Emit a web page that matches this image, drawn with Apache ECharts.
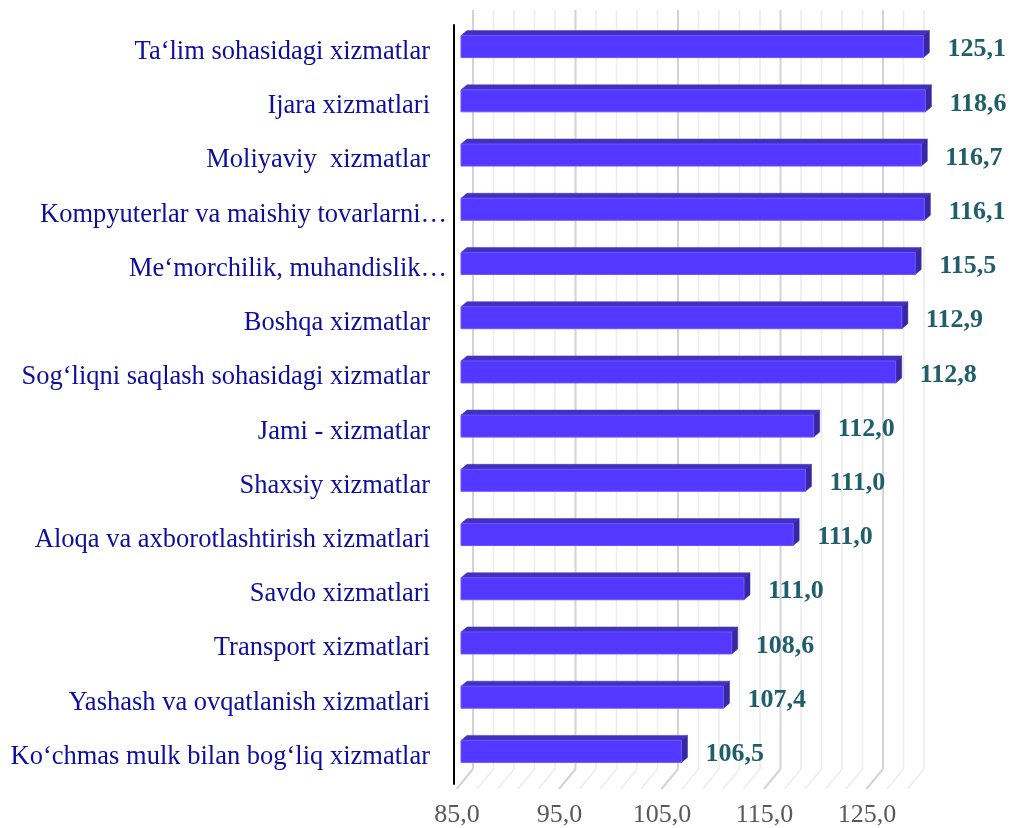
<!DOCTYPE html>
<html>
<head>
<meta charset="utf-8">
<script src="https://cdn.jsdelivr.net/npm/echarts@6/dist/echarts.min.js"></script>
<style>
html,body{margin:0;padding:0;background:#fff;}
#c{width:1010px;height:828px;}
</style>
</head>
<body>
<div id="c"></div>
<script>
// Category names (top to bottom)
const categories = [
  'Ta‘lim sohasidagi xizmatlar',
  'Ijara xizmatlari',
  'Moliyaviy  xizmatlar',
  'Kompyuterlar va maishiy tovarlarni…',
  'Me‘morchilik, muhandislik…',
  'Boshqa xizmatlar',
  'Sog‘liqni saqlash sohasidagi xizmatlar',
  'Jami - xizmatlar',
  'Shaxsiy xizmatlar',
  'Aloqa va axborotlashtirish xizmatlari',
  'Savdo xizmatlari',
  'Transport xizmatlari',
  'Yashash va ovqatlanish xizmatlari',
  'Ko‘chmas mulk bilan bog‘liq xizmatlar'
];
// Values printed next to the bars
const valueLabels = ['125,1','118,6','116,7','116,1','115,5','112,9','112,8','112,0','111,0','111,0','111,0','108,6','107,4','106,5'];
// Bar lengths as drawn in the picture
const barLengths = [130.5,130.7,130.3,130.6,129.7,128.4,127.8,119.8,119.0,117.8,113.0,111.8,111.0,106.9];
// Value axis tick labels
const axisTicks = [85,95,105,115,125];
// Back-wall gridlines
const wallLines = [85,87,89,91,93,95,97,99,101,103,105,107,109,111,113,115,117,119,121,123,125,127,129];

const chart = echarts.init(document.getElementById('c'), null, {renderer:'canvas'});
const FONT = '"Liberation Serif", "Times New Roman", serif';
const AX_MIN = 85, AX_MAX = 131;

const labelStyle = {fontFamily: FONT, fontSize: 26.5, color: '#0E0E9C', lineHeight: 30};

chart.setOption({
  animation: false,
  backgroundColor: '#ffffff',
  grid: [
    {left: 457, right: 81.5, top: 25, bottom: 44, containLabel: false},
    {left: 473, right: 65.5, top: 10, bottom: 59, containLabel: false}
  ],
  xAxis: [
    {
      gridIndex: 0, type: 'value', min: AX_MIN, max: AX_MAX, interval: 10,
      axisLine: {show: false}, axisTick: {show: false}, splitLine: {show: false},
      axisLabel: {
        margin: 18, fontFamily: FONT, fontSize: 26, lineHeight: 26, color: '#595959',
        formatter: function (v) {
          return axisTicks.indexOf(v) >= 0 ? v.toFixed(1).replace('.', ',') : '';
        }
      }
    },
    {
      gridIndex: 1, type: 'value', min: AX_MIN, max: AX_MAX, show: false
    }
  ],
  yAxis: [
    {
      gridIndex: 0, type: 'category', data: categories, inverse: true, offset: 3,
      axisTick: {show: false},
      axisLine: {show: true, lineStyle: {color: '#000000', width: 2}},
      splitLine: {show: false},
      axisLabel: {
        margin: 7,
        formatter: function (v) {
          return v.endsWith('…') ? '{t|' + v + '}' : '{n|' + v + '}';
        },
        rich: {
          n: Object.assign({padding: [0, 17, 0, 0]}, labelStyle),
          t: Object.assign({}, labelStyle)
        }
      }
    },
    {gridIndex: 1, type: 'value', min: 0, max: 1, show: false}
  ],
  series: [
    {
      type: 'custom',
      xAxisIndex: 1, yAxisIndex: 1,
      z: 1,
      silent: true,
      data: wallLines.map(function (v) { return [v]; }),
      renderItem: function (params, api) {
        const v = api.value(0);
        const b = api.coord([v, 0]);
        const t = api.coord([v, 1]);
        const major = ((v - 85) % 10) === 0;
        const col = major ? '#D4D4D4' : '#EDEDED';
        const w = major ? 2 : 1.6;
        return {
          type: 'group',
          children: [
            {type: 'line', shape: {x1: b[0], y1: t[1], x2: b[0], y2: b[1]}, style: {stroke: col, lineWidth: w}},
            {type: 'line', shape: {x1: b[0], y1: b[1], x2: b[0] - 16.5, y2: b[1] + 20}, style: {stroke: col, lineWidth: w}}
          ]
        };
      }
    },
    {
      type: 'custom',
      xAxisIndex: 0, yAxisIndex: 0,
      z: 3,
      data: barLengths.map(function (v, i) { return [v, i]; }),
      renderItem: function (params, api) {
        const idx = api.value(1);
        const end = api.coord([api.value(0), idx]);
        const start = api.coord([AX_MIN, idx]);
        const x0 = start[0] + 4;
        const xe = end[0];
        const cy = end[1] - 5.5;
        const top = cy - 11, bot = cy + 11;
        const dx = 6, dy = -5;
        return {
          type: 'group',
          children: [
            {type: 'polygon', shape: {points: [[x0, top], [x0 + dx, top + dy], [xe + dx, top + dy], [xe, top]]},
              style: {fill: '#4230C0', stroke: '#4230C0', lineWidth: 0.5}},
            {type: 'polygon', shape: {points: [[xe, top], [xe + dx, top + dy], [xe + dx, bot + dy], [xe, bot]]},
              style: {fill: '#3A26A2', stroke: '#3A26A2', lineWidth: 0.5}},
            {type: 'rect', shape: {x: x0, y: top, width: xe - x0, height: bot - top},
              style: {fill: '#5538FF', stroke: '#6B55FF', lineWidth: 1}},
            {type: 'text', style: {
              text: valueLabels[idx], x: xe + dx + 18, y: cy + 3,
              fill: '#215E6B', fontFamily: FONT, fontSize: 26, fontWeight: 'bold',
              align: 'left', verticalAlign: 'middle'
            }}
          ]
        };
      }
    }
  ]
});
</script>
</body>
</html>
